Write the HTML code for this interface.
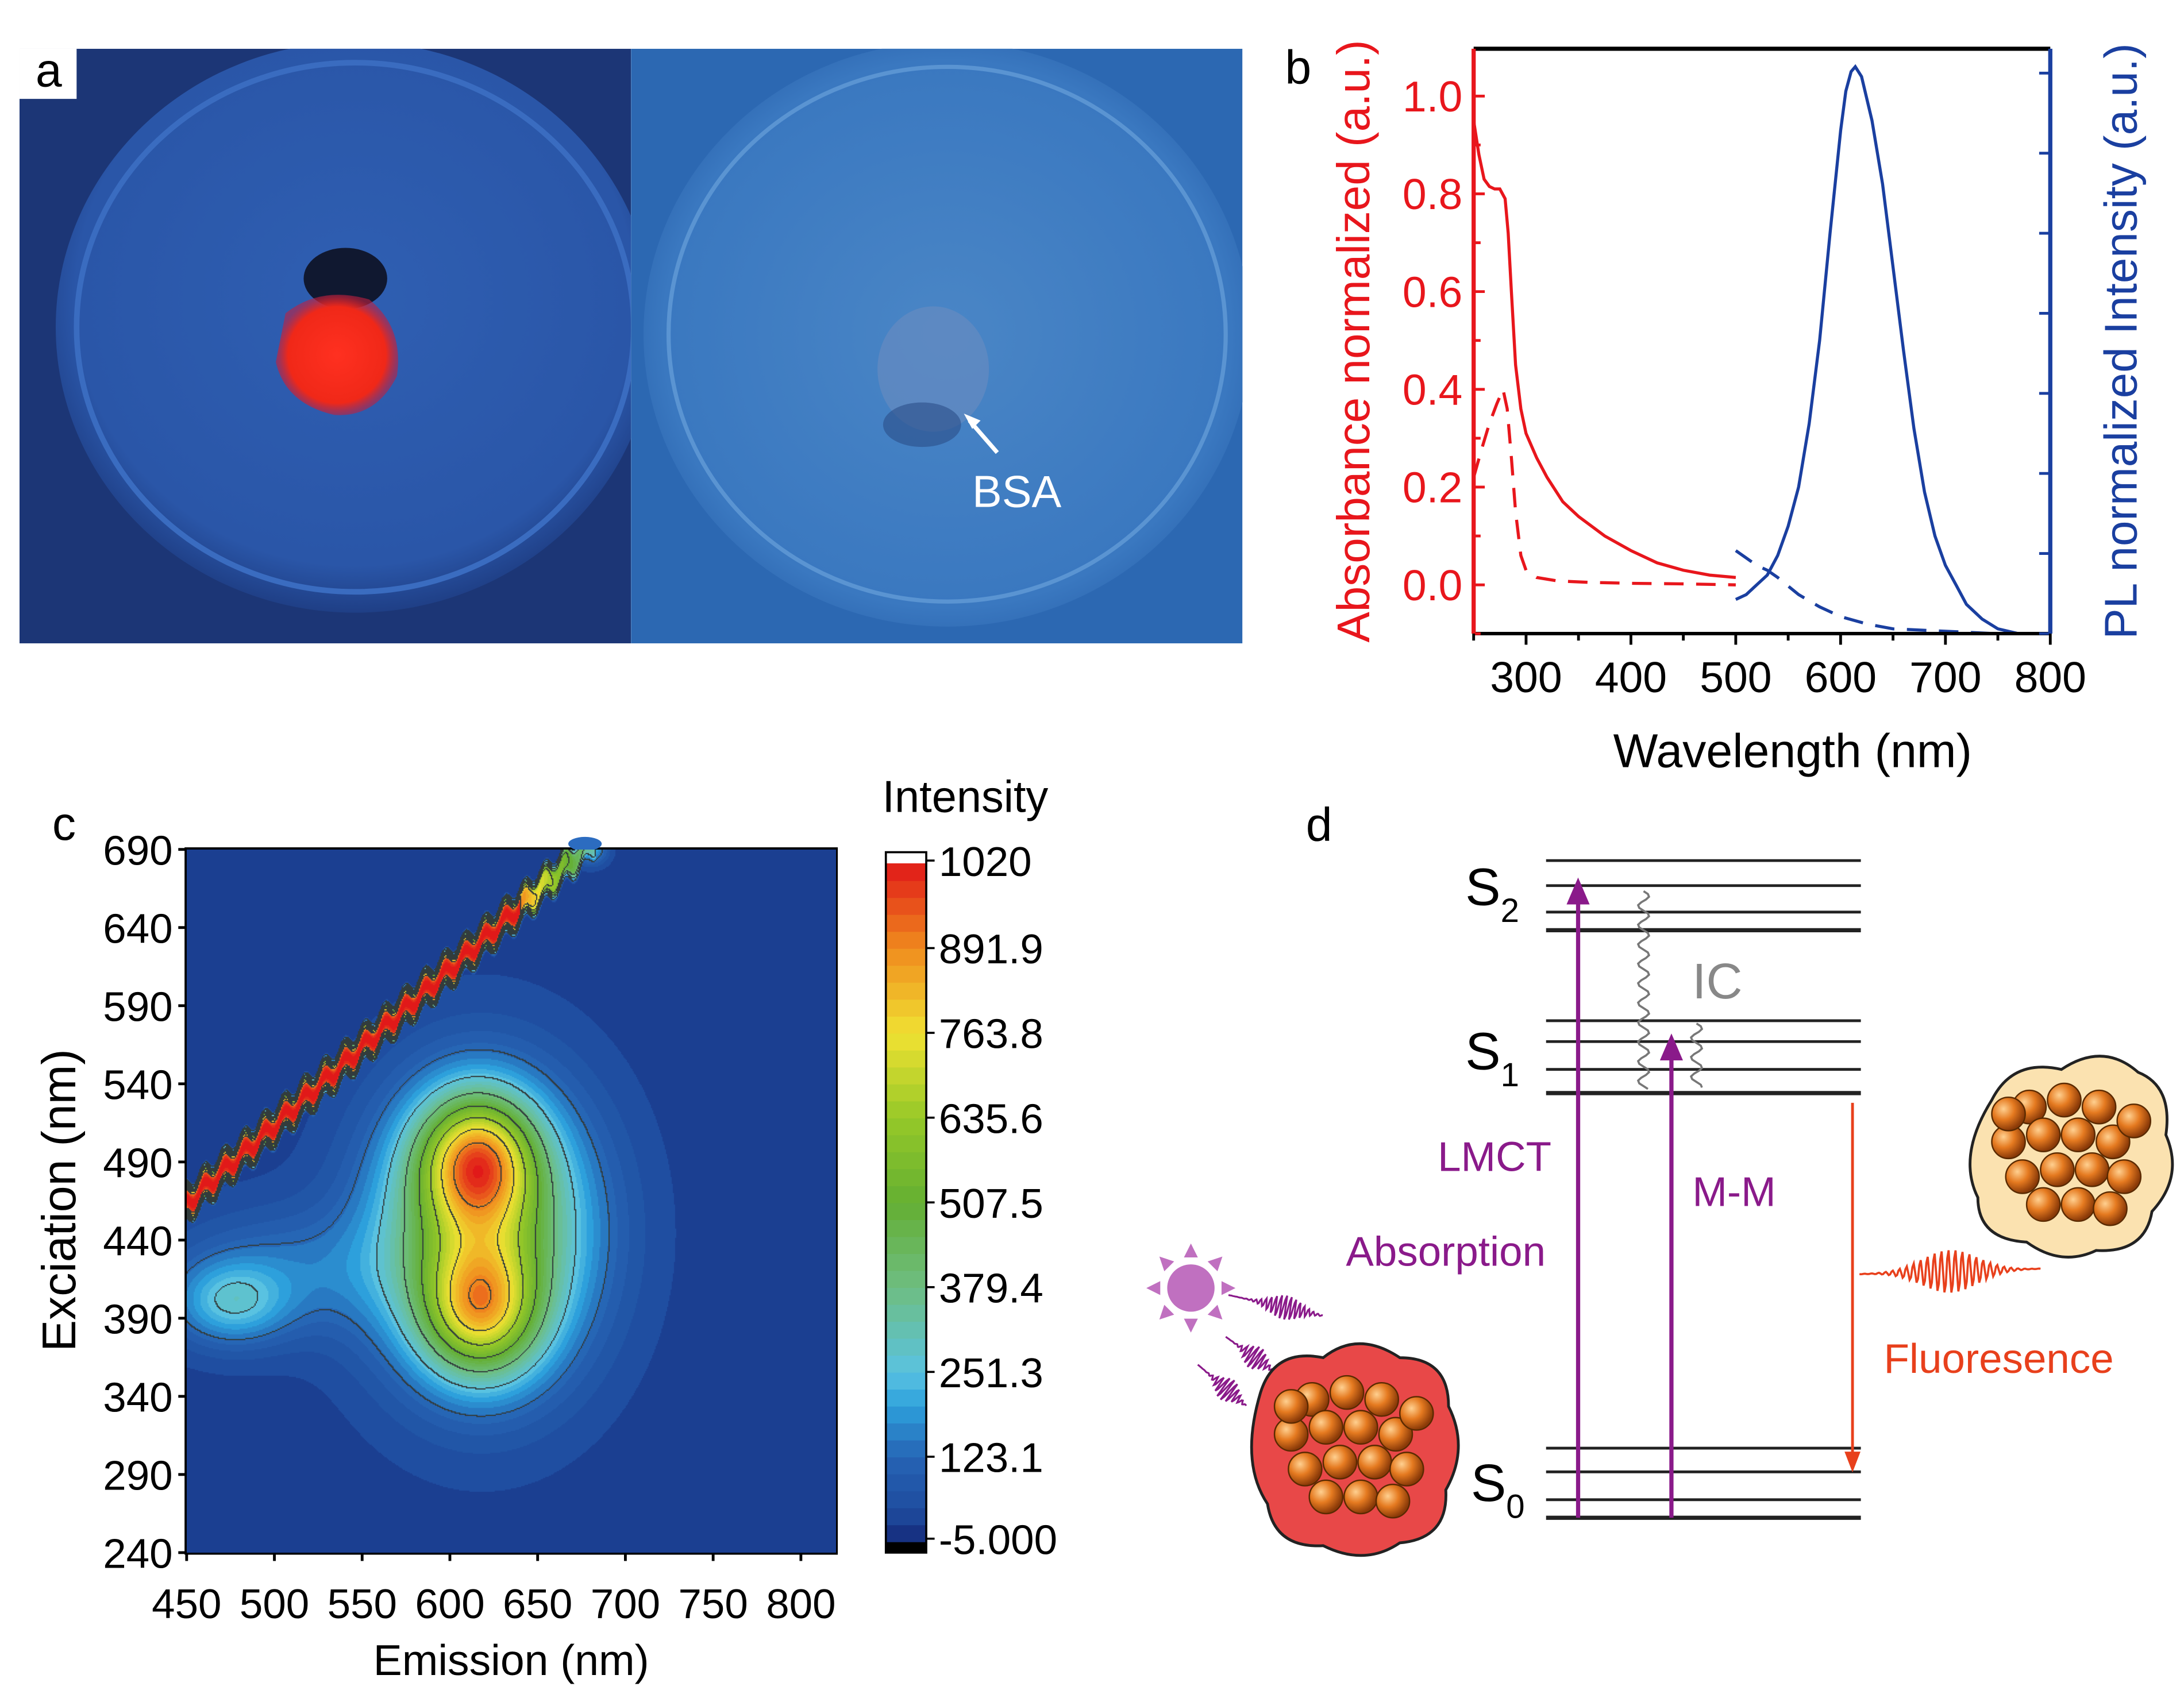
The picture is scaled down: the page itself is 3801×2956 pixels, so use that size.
<!DOCTYPE html>
<html><head><meta charset="utf-8"><style>
html,body{margin:0;padding:0;background:#fff}
#wrap{position:relative;width:3801px;height:2956px;overflow:hidden}
#main{position:absolute;left:0;top:0}
#heat{position:absolute}
text{font-family:"Liberation Sans",Arial,sans-serif}
</style></head><body>
<div id="wrap">
<svg id="main" width="3801" height="2956" viewBox="0 0 1568 1219.4" xmlns="http://www.w3.org/2000/svg">
<defs>
<radialGradient id="bowlL" cx="50%" cy="45%" r="55%"><stop offset="0" stop-color="#2f5fb2"/><stop offset="0.85" stop-color="#2a56a8"/><stop offset="1" stop-color="#1f3f86"/></radialGradient>
<radialGradient id="bowlR" cx="50%" cy="50%" r="55%"><stop offset="0" stop-color="#4a86c6"/><stop offset="0.85" stop-color="#3a78c0"/><stop offset="1" stop-color="#2c66b0"/></radialGradient>
<radialGradient id="redblob" cx="50%" cy="50%" r="50%"><stop offset="0" stop-color="#ff3020"/><stop offset="0.8" stop-color="#f02818"/><stop offset="1" stop-color="#c02040" stop-opacity="0.6"/></radialGradient>
<radialGradient id="ball" cx="35%" cy="35%" r="65%"><stop offset="0" stop-color="#ffd090"/><stop offset="0.5" stop-color="#e57a20"/><stop offset="1" stop-color="#8a3a08"/></radialGradient>
<clipPath id="clipL"><rect x="14" y="35" width="439" height="427"/></clipPath>
<clipPath id="clipR"><rect x="453" y="35" width="439" height="427"/></clipPath>
</defs>
<g>
<g clip-path="url(#clipL)">
<rect x="14" y="35" width="439" height="427" fill="#1c3676"/>
<ellipse cx="255" cy="235" rx="215" ry="205" fill="url(#bowlL)"/>
<ellipse cx="255" cy="235" rx="200" ry="190" fill="none" stroke="#3a6cc0" stroke-width="4"/>
<ellipse cx="248" cy="200" rx="30" ry="22" fill="#101830"/>
<path d="M205 225 Q230 205 265 215 Q290 235 285 270 Q270 300 240 298 Q205 290 198 260 Z" fill="url(#redblob)"/>
</g>
<g clip-path="url(#clipR)">
<rect x="453" y="35" width="439" height="427" fill="#2c68b2"/>
<ellipse cx="680" cy="240" rx="218" ry="210" fill="url(#bowlR)"/>
<ellipse cx="680" cy="240" rx="200" ry="192" fill="none" stroke="#5a94d2" stroke-width="3"/>
<ellipse cx="670" cy="265" rx="40" ry="45" fill="#6a8cc0" opacity="0.6"/>
<ellipse cx="662" cy="305" rx="28" ry="16" fill="#2c4e88" opacity="0.6"/>
</g>
<line x1="716" y1="325" x2="696" y2="302" stroke="#fff" stroke-width="3"/>
<path d="M692 297 L704 302 L698 308 Z" fill="#fff"/>
<text x="730" y="364" font-size="32" fill="#fff" text-anchor="middle">BSA</text>
<rect x="14" y="35" width="41" height="36" fill="#fff"/>
<text x="35" y="62" font-size="34" text-anchor="middle">a</text>
</g>
<g id="pb">
<text x="932" y="60" font-size="34" text-anchor="middle">b</text>
</g>
<g id="pc">
<text x="46" y="603" font-size="34" text-anchor="middle">c</text>
<text x="693" y="583" font-size="32" text-anchor="middle">Intensity</text>
<text transform="translate(54,862) rotate(-90)" font-size="34" text-anchor="middle">Exciation (nm)</text>
<text x="367" y="1203" font-size="31" text-anchor="middle">Emission (nm)</text>
</g>
<g>
<text x="947" y="604" font-size="34" text-anchor="middle">d</text>
<g stroke="#222" stroke-width="2">
<line x1="1110" y1="618" x2="1336" y2="618"/><line x1="1110" y1="636" x2="1336" y2="636"/><line x1="1110" y1="655" x2="1336" y2="655"/><line x1="1110" y1="668" x2="1336" y2="668" stroke-width="3"/>
<line x1="1110" y1="733" x2="1336" y2="733"/><line x1="1110" y1="748" x2="1336" y2="748"/><line x1="1110" y1="768" x2="1336" y2="768"/><line x1="1110" y1="785" x2="1336" y2="785" stroke-width="3"/>
<line x1="1110" y1="1040" x2="1336" y2="1040"/><line x1="1110" y1="1057" x2="1336" y2="1057"/><line x1="1110" y1="1077" x2="1336" y2="1077"/><line x1="1110" y1="1090" x2="1336" y2="1090" stroke-width="3"/>
</g>
<text x="1052" y="650" font-size="38">S<tspan font-size="24" dy="12">2</tspan></text>
<text x="1052" y="768" font-size="38">S<tspan font-size="24" dy="12">1</tspan></text>
<text x="1056" y="1078" font-size="38">S<tspan font-size="24" dy="12">0</tspan></text>
<g stroke="#8a1a8a" stroke-width="3" fill="#8a1a8a">
<line x1="1133" y1="1090" x2="1133" y2="645"/><path d="M1127 648 L1133 634 L1139 648 Z"/>
<line x1="1200" y1="1090" x2="1200" y2="758"/><path d="M1194 760 L1200 746 L1206 760 Z"/>
</g>
<path id="wv1" d="" fill="none" stroke="#777" stroke-width="1.5"/>
<path id="wv2" d="" fill="none" stroke="#777" stroke-width="1.5"/>
<text x="1233" y="717" font-size="36" fill="#888" text-anchor="middle">IC</text>
<text x="1073" y="841" font-size="30" fill="#8a1a8a" text-anchor="middle">LMCT</text>
<text x="1245" y="866" font-size="30" fill="#8a1a8a" text-anchor="middle">M-M</text>
<text x="1038" y="909" font-size="30" fill="#8a1a8a" text-anchor="middle">Absorption</text>
<g stroke="#e8401c" fill="#e8401c">
<line x1="1330" y1="792" x2="1330" y2="1045" stroke-width="2"/><path d="M1325 1043 L1330 1056 L1335 1043 Z"/>
</g>
<path id="fwave" d="" fill="none" stroke="#e8401c" stroke-width="1.5"/>
<text x="1435" y="986" font-size="30" fill="#e8401c" text-anchor="middle">Fluoresence</text>
<g>
<circle cx="855" cy="925" r="17" fill="#c070c0"/>
<g id="rays" fill="#c070c0"></g>
</g>
<g id="photons"></g>
<g>
<path d="M905 1000 Q915 968 950 975 Q975 955 1005 975 Q1040 975 1040 1010 Q1055 1040 1038 1070 Q1040 1105 1005 1108 Q980 1125 950 1110 Q915 1112 910 1080 Q890 1050 905 1000 Z" fill="#e84848" stroke="#222" stroke-width="2"/>
<g id="ballsR"></g>
</g>
<g>
<path d="M1430 790 Q1445 760 1480 768 Q1510 748 1535 770 Q1560 780 1555 815 Q1568 845 1545 870 Q1540 900 1505 898 Q1480 910 1455 892 Q1420 890 1420 860 Q1405 830 1430 790 Z" fill="#fbe2b0" stroke="#222" stroke-width="2"/>
<g id="ballsC"></g>
</g>
</g>
</svg>
<canvas id="heat"></canvas>
</div>
<script>
const NS="http://www.w3.org/2000/svg";
function mk(tag,attrs,parent){const e=document.createElementNS(NS,tag);for(const k in attrs)e.setAttribute(k,attrs[k]);parent.appendChild(e);return e;}

const absWl=[250,255,260,265,270,275,280,283,286,290,295,300,310,320,335,350,375,400,425,450,475,500];
const absVal=[0.95,0.88,0.83,0.815,0.81,0.81,0.79,0.72,0.6,0.45,0.36,0.31,0.26,0.22,0.17,0.14,0.1,0.07,0.045,0.03,0.02,0.015];
const absDashWl=[250,258,265,272,278,282,286,290,295,300,310,330,360,400,450,500];
const absDashVal=[0.22,0.28,0.33,0.37,0.4,0.36,0.26,0.15,0.06,0.03,0.015,0.008,0.005,0.003,0.002,0.0];
const plWl=[500,510,520,530,540,550,560,570,580,590,600,605,610,614,620,630,640,650,660,670,680,690,700,710,720,735,750,770,800];
const plVal=[-0.03,-0.02,0.0,0.02,0.06,0.12,0.2,0.33,0.5,0.72,0.93,1.01,1.05,1.06,1.04,0.95,0.82,0.65,0.48,0.32,0.19,0.1,0.04,0.0,-0.04,-0.07,-0.09,-0.1,-0.1];
const plDashWl=[500,510,520,530,540,560,580,600,625,650,700,750,800];
const plDashVal=[0.07,0.055,0.04,0.03,0.015,-0.02,-0.045,-0.065,-0.08,-0.09,-0.095,-0.1,-0.1];
const bXTicks=[300,400,500,600,700,800];
const bYTicks=[0,0.2,0.4,0.6,0.8,1.0];

const bx0=1058,bx1=1472,by0=35,by1=455;
const bX=w=>bx0+(w-250)*(bx1-bx0)/550;
const bY=v=>420-v*351;
const pb=document.getElementById('pb');
function poly(xs,ys,color,dash,name){const d=xs.map((x,i)=>(i?'L':'M')+bX(x).toFixed(1)+' '+bY(ys[i]).toFixed(1)).join(' ');
 const p=mk('path',{d:d,fill:'none',stroke:color,'stroke-width':2.2},pb);if(dash)p.setAttribute('stroke-dasharray',dash);
 
 }
poly(absWl,absVal,'#e8161c',null,'absorbance-solid-line');
poly(absDashWl,absDashVal,'#e8161c','14 9','absorbance-dashed-line');
poly(plWl,plVal,'#1a3fa0',null,'pl-solid-line');
poly(plDashWl,plDashVal,'#1a3fa0','14 9','pl-dashed-line');
mk('line',{x1:bx0,y1:by0,x2:bx1,y2:by0,stroke:'#000','stroke-width':3},pb);
mk('line',{x1:bx0,y1:by1,x2:bx1,y2:by1,stroke:'#000','stroke-width':2.5},pb);
mk('line',{x1:bx0,y1:by0,x2:bx0,y2:by1,stroke:'#e8161c','stroke-width':3},pb);
mk('line',{x1:bx1,y1:by0,x2:bx1,y2:by1,stroke:'#1a3fa0','stroke-width':3},pb);
for(let v=-0.1;v<=1.05;v+=0.1){const y=bY(v);const major=Math.abs(Math.round(v*10)%2)===0;mk('line',{x1:bx0,y1:y,x2:bx0+(major?8:5),y2:y,stroke:'#e8161c','stroke-width':2},pb);}
bYTicks.forEach(v=>{const t=mk('text',{x:bx0-8,y:bY(v)+11,'font-size':31,fill:'#e8161c','text-anchor':'end'},pb);t.textContent=v.toFixed(1);
 
 });
for(let y=by1;y>by0;y-=57.5){mk('line',{x1:bx1,y1:y,x2:bx1-8,y2:y,stroke:'#1a3fa0','stroke-width':2},pb);}
for(let w=250;w<=800;w+=50){const x=bX(w);mk('line',{x1:x,y1:by1,x2:x,y2:by1+(w%100===0?8:5),stroke:'#000','stroke-width':2},pb);}
bXTicks.forEach(w=>{const t=mk('text',{x:bX(w),y:by1+42,'font-size':31,'text-anchor':'middle'},pb);t.textContent=w;
 
 });
{let t=mk('text',{transform:'translate(983,245) rotate(-90)','font-size':33,fill:'#e8161c','text-anchor':'middle'},pb);t.textContent='Absorbance normalized (a.u.)';
 
 t=mk('text',{transform:'translate(1534,245) rotate(-90)','font-size':33,fill:'#1a3fa0','text-anchor':'middle'},pb);t.textContent='PL normalized Intensity (a.u.)';
 
 t=mk('text',{x:1287,y:551,'font-size':34,'text-anchor':'middle'},pb);t.textContent='Wavelength (nm)';
 }

const peakEm=[615,617,618,475,505,680];
const peakEx=[492,395,445,400,420,690];
const peakAmp=[560,470,560,190,110,200];
const peakSx=[22,22,40,22,45,6];
const peakSy=[28,28,60,18,28,6];
const cXTicks=[450,500,550,600,650,700,750,800];
const cYTicks=[240,290,340,390,440,490,540,590,640,690];
const cbTicks=[1020,891.9,763.8,635.6,507.5,379.4,251.3,123.1,-5.000];
const cbLabels=['1020','891.9','763.8','635.6','507.5','379.4','251.3','123.1','-5.000'];

const cx0=134,cx1=600,cy0=610,cy1=1115;
const cX=e=>cx0+(e-450)*63/50;
const cY=v=>cy1-(v-240)*(cy1-cy0)/450;
const stops=[[-5,[20,40,120]],[40,[30,75,158]],[123,[38,100,180]],[200,[45,160,220]],[251,[90,195,225]],[379,[110,190,130]],[507,[100,175,50]],[635,[150,200,40]],[763,[240,225,50]],[891,[240,140,30]],[1020,[225,25,25]]];
function cmap(v){if(v<=stops[0][0])return stops[0][1];for(let i=1;i<stops.length;i++){if(v<=stops[i][0]){const a=stops[i-1],b=stops[i];const t=(v-a[0])/(b[0]-a[0]);return a[1].map((c,j)=>Math.round(c+(b[1][j]-c)*t));}}return stops[stops.length-1][1];}
function field(em,ex){let v=25;for(let i=0;i<peakEm.length;i++){const dx=(em-peakEm[i])/peakSx[i],dy=(ex-peakEx[i])/peakSy[i];v+=peakAmp[i]*Math.exp(-0.5*(dx*dx+dy*dy));}
 if(em<=683&&em>=448){const d=Math.abs(ex-(em+14+Math.sin(em*0.55)*4));const amp=em>640?600*(683-em)/43+300:1020;v=Math.max(v,amp*Math.exp(-Math.pow(d/10,4)));}
 return Math.min(v,1015);}
const S=3801/1568;
const cv=document.getElementById('heat');
const W=Math.round((cx1-cx0)*S),H=Math.round((cy1-cy0)*S);
cv.width=W;cv.height=H;cv.style.left=Math.round(cx0*S)+'px';cv.style.top=Math.round(cy0*S)+'px';
const ctx=cv.getContext('2d');const img=ctx.createImageData(W,H);
const st=2,gw=Math.ceil(W/st),gh=Math.ceil(H/st);const grid=new Float32Array(gw*gh);
for(let j=0;j<gh;j++)for(let i=0;i<gw;i++){const px=cx0+i*st/S,py=cy0+j*st/S;const em=450+(px-cx0)*50/63,ex=240+(cy1-py)*450/(cy1-cy0);grid[j*gw+i]=field(em,ex);}
const lev=v=>Math.floor((v-5)/128);
for(let j=0;j<gh;j++)for(let i=0;i<gw;i++){const v=grid[j*gw+i];let c=cmap(Math.round(v/25)*25);
 const l=lev(v);if((i+1<gw&&lev(grid[j*gw+i+1])!==l)||(j+1<gh&&lev(grid[(j+1)*gw+i])!==l))c=[50,60,60];
 for(let dy=0;dy<st;dy++)for(let dx=0;dx<st;dx++){const X=i*st+dx,Y=j*st+dy;if(X<W&&Y<H){const k=(Y*W+X)*4;img.data[k]=c[0];img.data[k+1]=c[1];img.data[k+2]=c[2];img.data[k+3]=255;}}}
ctx.putImageData(img,0,0);
const pc=document.getElementById('pc');
mk('rect',{x:cx0,y:cy0,width:cx1-cx0,height:cy1-cy0,fill:'none',stroke:'#000','stroke-width':3},pc);
mk('ellipse',{cx:420,cy:606,rx:12,ry:5,fill:'#2c6cc0'},pc);
cXTicks.forEach(e=>{const x=cX(e);mk('line',{x1:x,y1:cy1,x2:x,y2:cy1+6,stroke:'#000','stroke-width':2},pc);
 const t=mk('text',{x:x,y:cy1+47,'font-size':30,'text-anchor':'middle'},pc);t.textContent=e;
 });
cYTicks.forEach(v=>{const y=cY(v);mk('line',{x1:cx0-6,y1:y,x2:cx0,y2:y,stroke:'#000','stroke-width':2},pc);
 const t=mk('text',{x:cx0-10,y:y+11,'font-size':30,'text-anchor':'end'},pc);t.textContent=v;
 });
const cbx=636,cbw=29,cbt=620,cbb=1107;
const cbV=v=>cbb-(v+5)*(cbb-cbt)/1025;
mk('rect',{x:cbx,y:612,width:cbw,height:8,fill:'#fff'},pc);
mk('rect',{x:cbx,y:cbb,width:cbw,height:8,fill:'#000'},pc);
for(let b=0;b<40;b++){const v0=-5+b*1025/40,v1=v0+1025/40;const c=cmap((v0+v1)/2);
 const r=mk('rect',{x:cbx,y:cbV(v1),width:cbw,height:cbV(v0)-cbV(v1)+0.5,fill:'rgb('+c.join(',')+')'},pc);
 }
mk('rect',{x:cbx,y:612,width:cbw,height:503,fill:'none',stroke:'#000','stroke-width':1.5},pc);
cbTicks.forEach((v,i)=>{const y=i===0?618:(i===cbTicks.length-1?1105:cbV(v));mk('line',{x1:cbx+cbw,y1:y,x2:cbx+cbw+6,y2:y,stroke:'#000','stroke-width':1.5},pc);
 const t=mk('text',{x:cbx+cbw+9,y:y+11,'font-size':30},pc);t.textContent=cbLabels[i];
 });

function wavyV(x,y0,y1,amp,per){let d='M'+x+' '+y0;for(let y=y0;y<=y1;y+=2){d+=' L'+(x+amp*Math.sin((y-y0)/per*2*Math.PI)).toFixed(1)+' '+y;}return d;}
document.getElementById('wv1').setAttribute('d',wavyV(1180,640,782,4,14));
document.getElementById('wv2').setAttribute('d',wavyV(1218,735,782,4,14));
{let d='M1335 915';for(let x=1335;x<=1465;x+=1){const env=Math.exp(-Math.pow((x-1400)/28,2));d+=' L'+x+' '+(915-0.03*(x-1335)+16*env*Math.sin((x-1335)/5*2*Math.PI)).toFixed(1);}
 document.getElementById('fwave').setAttribute('d',d);}
const rays=document.getElementById('rays');
for(let k=0;k<8;k++){const a=k*Math.PI/4;const c=Math.cos(a),s=Math.sin(a);const p=[[855+22*c-5*s,925+22*s+5*c],[855+32*c,925+32*s],[855+22*c+5*s,925+22*s-5*c]];mk('path',{d:'M'+p.map(q=>q.join(' ')).join(' L')+' Z'},rays);}
const ph=document.getElementById('photons');
[[882,930,950,945],[880,960,915,985],[860,980,895,1010]].forEach(a=>{const [x0,y0,x1,y1]=a;const L=Math.hypot(x1-x0,y1-y0),ux=(x1-x0)/L,uy=(y1-y0)/L;let d='M'+x0+' '+y0;
 for(let t=0;t<=L;t+=0.7){const env=Math.exp(-Math.pow((t-L*0.6)/(L*0.22),2));const o=9*env*Math.sin(t/3.5*2*Math.PI);d+=' L'+(x0+ux*t-uy*o).toFixed(1)+' '+(y0+uy*t+ux*o).toFixed(1);}
 mk('path',{d:d,fill:'none',stroke:'#8a1a8a','stroke-width':1.3},ph);});
function balls(g,cx,cy){const pts=[[-30,-35],[-5,-40],[20,-35],[-45,-10],[-20,-15],[5,-15],[30,-10],[-35,15],[-10,10],[15,10],[38,15],[-20,35],[5,35],[28,38],[-45,-30],[45,-25]];
 pts.forEach(p=>mk('circle',{cx:cx+p[0],cy:cy+p[1],r:12,fill:'url(#ball)',stroke:'#5a2a00','stroke-width':1},g));}
balls(document.getElementById('ballsR'),972,1040);
balls(document.getElementById('ballsC'),1487,830);
</script>
</body></html>
